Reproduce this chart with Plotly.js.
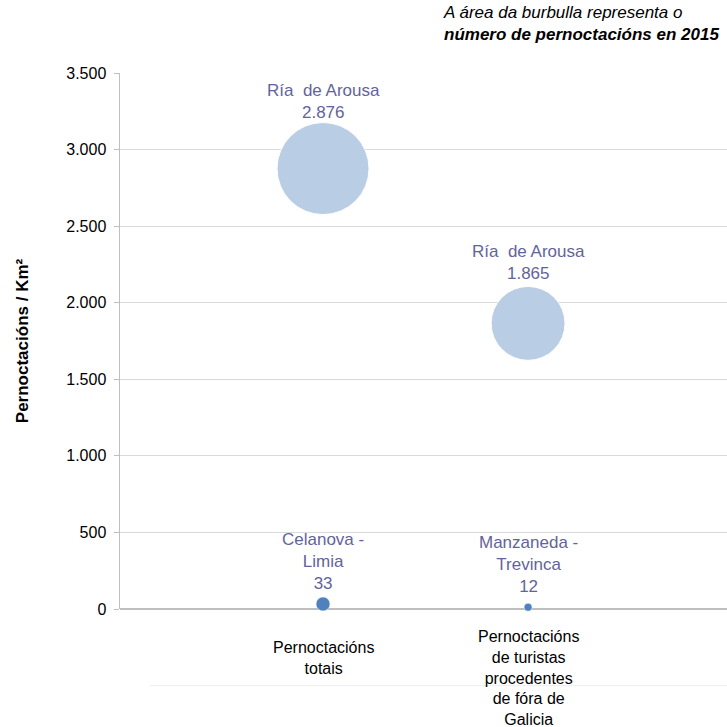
<!DOCTYPE html>
<html><head><meta charset="utf-8">
<script src="https://cdn.plot.ly/plotly-3.0.1.min.js"></script>
<style>html,body{margin:0;padding:0;background:#fff}#chart{width:727px;height:727px}</style>
</head><body><div id="chart"></div>
<script>
const categories = ["Pernoctacións<br>totais", "Pernoctacións<br>de turistas<br>procedentes<br>de fóra de<br>Galicia"];
const categoryX = [1, 2];
const maxNames = ["Ría  de Arousa", "Ría  de Arousa"];
const maxValues = [2876, 1865];
const maxStays = [1690000, 1090000];
const minNames = ["Celanova -<br>Limia", "Manzaneda -<br>Trevinca"];
const minValues = [33, 12];
const minStays = [39000, 12800];
const yTicks = [0, 500, 1000, 1500, 2000, 2500, 3000, 3500];

function fmt(v){ return String(v).replace(/\B(?=(\d{3})+(?!\d))/g, "."); }
const sizeref = 2 * 1690000 / (92*92);
const labelFont = {family: "Liberation Sans, Arial, sans-serif", size: 17, color: "#63639b"};
const font = "Liberation Sans, Arial, sans-serif";

const traces = [
  {type: "scatter", mode: "markers", x: categoryX, y: maxValues,
   marker: {size: maxStays, sizemode: "area", sizeref: sizeref, color: "#B9CDE5", opacity: 1, line: {color: "#ffffff", width: 1}},
   hoverinfo: "skip", cliponaxis: false},
  {type: "scatter", mode: "markers", x: categoryX, y: minValues,
   marker: {size: minStays, sizemode: "area", sizeref: sizeref, color: "#4F81BD", opacity: 1, line: {color: "#ffffff", width: 0.5}},
   hoverinfo: "skip", cliponaxis: false}
];

const annotations = [];
// data labels (shift in px above the bubble centre)
const maxShift = [45, 38];
const minShift = [9, 9];
maxNames.forEach((n,i)=>annotations.push({x: categoryX[i], y: maxValues[i], xref: "x", yref: "y",
  text: n + "<br>" + fmt(maxValues[i]), showarrow: false, yanchor: "bottom", yshift: maxShift[i], font: labelFont}));
minNames.forEach((n,i)=>annotations.push({x: categoryX[i], y: minValues[i], xref: "x", yref: "y",
  text: n + "<br>" + fmt(minValues[i]), showarrow: false, yanchor: "bottom", yshift: minShift[i], font: labelFont}));

categories.forEach((c,i)=>annotations.push({
  x: categoryX[i], xref: "x", y: i===0 ? -0.053 : -0.031, yref: "paper", yanchor: "top",
  text: c, showarrow: false, align: "center",
  font: {family: font, size: 16, color: "#000"}
}));
annotations.push({
  x: (721-120)/607, xref: "paper", y: 1, yref: "paper", yshift: 27, showarrow: false,
  xanchor: "right", yanchor: "bottom", align: "left",
  text: "<i>A área da burbulla representa o</i><br><b><i>número de pernoctacións en 2015</i></b>",
  font: {family: font, size: 17, color: "#000"}
});

const layout = {
  width: 727, height: 727,
  margin: {l: 120, r: 0, t: 73, b: 118},
  paper_bgcolor: "#fff", plot_bgcolor: "#fff",
  showlegend: false,
  separators: ",.",
  xaxis: {range: [0.01, 2.97], showgrid: false, zeroline: false, showticklabels: false,
          showline: false, ticks: ""},
  yaxis: {range: [0, 3500], tickvals: yTicks, ticktext: yTicks.map(fmt),
          showgrid: true, gridcolor: "#D9D9D9", gridwidth: 1,
          zeroline: true, zerolinecolor: "#BFBFBF", zerolinewidth: 1.5,
          showline: true, linecolor: "#BFBFBF", linewidth: 1.5,
          ticks: "outside", ticklen: 5, tickcolor: "#BFBFBF", ticklabelstandoff: 4,
          tickfont: {family: font, size: 16, color: "#000"},
          title: {text: "<b>Pernoctacións / Km²</b>", standoff: 33,
                  font: {family: font, size: 17, color: "#000"}}},
  annotations: annotations,
  shapes: [{type: "line", xref: "paper", yref: "paper", x0: 30/607, x1: 1, y0: -0.143, y1: -0.143,
            line: {color: "#EEEEEE", width: 1}}]
};
Plotly.newPlot("chart", traces, layout, {displayModeBar: false, staticPlot: true});
</script></body></html>
